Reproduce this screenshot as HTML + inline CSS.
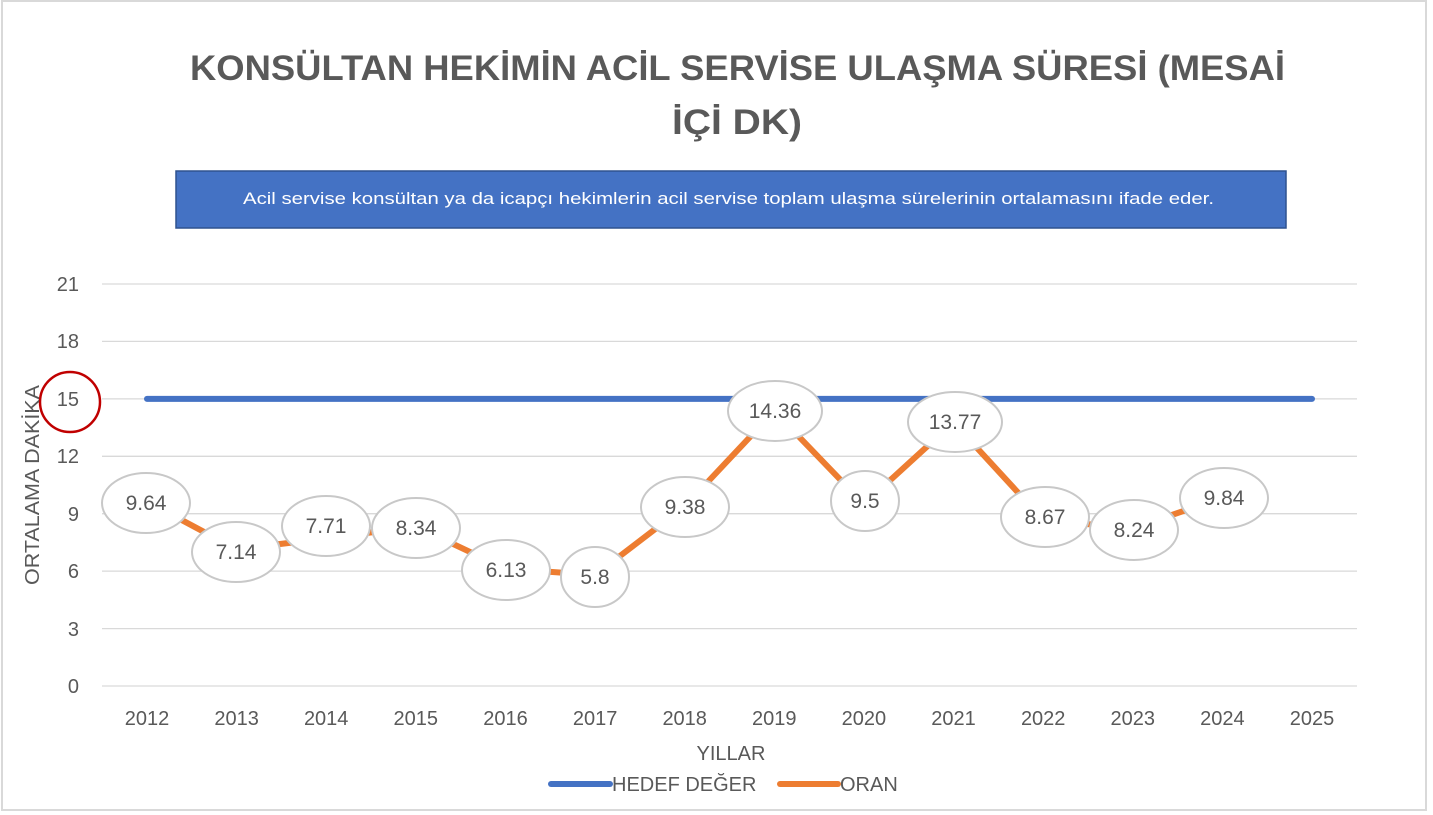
<!DOCTYPE html>
<html><head><meta charset="utf-8"><style>
body{margin:0;background:#fff;}
svg{display:block;font-family:"Liberation Sans",Calibri,sans-serif;}
</style></head><body>
<svg width="1433" height="815" viewBox="0 0 1433 815" xmlns="http://www.w3.org/2000/svg">
<rect x="0" y="0" width="1433" height="815" fill="#fff"/>
<rect x="2" y="1" width="1424" height="809" fill="#fff" stroke="#d9d9d9" stroke-width="2"/>
<text x="190" y="80" textLength="1095" lengthAdjust="spacingAndGlyphs" font-size="35" font-weight="bold" fill="#595959">KONSÜLTAN HEKİMİN ACİL SERVİSE ULAŞMA SÜRESİ (MESAİ</text>
<text x="672" y="134" textLength="130" lengthAdjust="spacingAndGlyphs" font-size="35" font-weight="bold" fill="#595959">İÇİ  DK)</text>
<rect x="176" y="171" width="1110" height="57" fill="#4472c4" stroke="#2f528f" stroke-width="1.5"/>
<text x="243" y="204" textLength="971" lengthAdjust="spacingAndGlyphs" font-size="17" fill="#fff">Acil servise  konsültan ya da icapçı hekimlerin acil servise toplam ulaşma sürelerinin ortalamasını ifade eder.</text>
<g stroke="#d9d9d9" stroke-width="1.3">
<line x1="102" y1="284" x2="1357" y2="284"/><line x1="102" y1="341.4" x2="1357" y2="341.4"/>
<line x1="102" y1="398.9" x2="1357" y2="398.9"/><line x1="102" y1="456.3" x2="1357" y2="456.3"/>
<line x1="102" y1="513.7" x2="1357" y2="513.7"/><line x1="102" y1="571.1" x2="1357" y2="571.1"/>
<line x1="102" y1="628.6" x2="1357" y2="628.6"/><line x1="102" y1="686" x2="1357" y2="686"/>
</g>
<g font-size="20" fill="#595959" text-anchor="end">
<text x="79" y="291">21</text><text x="79" y="348">18</text><text x="79" y="406">15</text>
<text x="79" y="463">12</text><text x="79" y="521">9</text><text x="79" y="578">6</text>
<text x="79" y="636">3</text><text x="79" y="693">0</text>
</g>
<circle cx="70" cy="402" r="30" fill="none" stroke="#c00000" stroke-width="2.5"/>
<text transform="translate(39 485) rotate(-90)" text-anchor="middle" textLength="200" lengthAdjust="spacingAndGlyphs" font-size="20" fill="#595959">ORTALAMA DAKİKA</text>
<g font-size="20" fill="#595959" text-anchor="middle">
<text x="147" y="725">2012</text><text x="236.6" y="725">2013</text><text x="326.2" y="725">2014</text>
<text x="415.8" y="725">2015</text><text x="505.5" y="725">2016</text><text x="595.1" y="725">2017</text>
<text x="684.7" y="725">2018</text><text x="774.3" y="725">2019</text><text x="863.9" y="725">2020</text>
<text x="953.5" y="725">2021</text><text x="1043.2" y="725">2022</text><text x="1132.8" y="725">2023</text>
<text x="1222.4" y="725">2024</text><text x="1312" y="725">2025</text>
<text x="731" y="760">YILLAR</text>
</g>
<line x1="147" y1="398.9" x2="1312" y2="398.9" stroke="#4472c4" stroke-width="6" stroke-linecap="round"/>
<polyline fill="none" stroke="#ed7d31" stroke-width="6" stroke-linejoin="round" points="147,501.5 236.6,549.3 326.2,538.4 415.8,526.4 505.5,568.7 595.1,575 684.7,506.5 774.3,411.1 863.9,504.2 953.5,422.4 1043.2,520 1132.8,528.3 1222.4,497.7"/>
<g fill="#fff" stroke="#c8c8c8" stroke-width="2">
<ellipse cx="146" cy="503" rx="44" ry="30"/><ellipse cx="236" cy="552" rx="44" ry="30"/>
<ellipse cx="326" cy="526" rx="44" ry="30"/><ellipse cx="416" cy="528" rx="44" ry="30"/>
<ellipse cx="506" cy="570" rx="44" ry="30"/><ellipse cx="595" cy="577" rx="34" ry="30"/>
<ellipse cx="685" cy="507" rx="44" ry="30"/><ellipse cx="775" cy="411" rx="47" ry="30"/>
<ellipse cx="865" cy="501" rx="34" ry="30"/><ellipse cx="955" cy="422" rx="47" ry="30"/>
<ellipse cx="1045" cy="517" rx="44" ry="30"/><ellipse cx="1134" cy="530" rx="44" ry="30"/>
<ellipse cx="1224" cy="498" rx="44" ry="30"/>
</g>
<g font-size="21" fill="#595959" text-anchor="middle">
<text x="146" y="510">9.64</text><text x="236" y="559">7.14</text><text x="326" y="533">7.71</text>
<text x="416" y="535">8.34</text><text x="506" y="577">6.13</text><text x="595" y="584">5.8</text>
<text x="685" y="514">9.38</text><text x="775" y="418">14.36</text><text x="865" y="508">9.5</text>
<text x="955" y="429">13.77</text><text x="1045" y="524">8.67</text><text x="1134" y="537">8.24</text>
<text x="1224" y="505">9.84</text>
</g>
<line x1="551" y1="784" x2="610" y2="784" stroke="#4472c4" stroke-width="6" stroke-linecap="round"/>
<text x="612" y="791" font-size="20" fill="#595959">HEDEF DEĞER</text>
<line x1="780" y1="784" x2="838" y2="784" stroke="#ed7d31" stroke-width="6" stroke-linecap="round"/>
<text x="840" y="791" font-size="20" fill="#595959">ORAN</text>
</svg>
</body></html>
